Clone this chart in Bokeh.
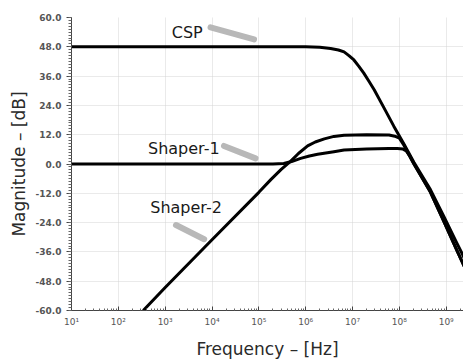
from bokeh.plotting import figure
from bokeh.models import (FixedTicker, NumeralTickFormatter, CustomJSTickFormatter,
                          SingleIntervalTicker, Range1d)
from bokeh.core.properties import value
from bokeh.embed import file_html
from bokeh.resources import INLINE

# ---- data ----
csp_freq = [10, 1.0e6, 2.0e6, 3.4e6, 5.0e6, 6.6e6, 8.5e6, 1.07e7, 1.38e7, 1.74e7,
            2.24e7, 2.9e7, 4.7e7, 7.6e7, 1.26e8, 2.04e8, 4.6e8, 8.9e8, 1.7e9, 2.5e9]
csp_db = [48.0, 48.0, 47.8, 47.3, 46.7, 45.9, 44.3, 42.6, 39.9, 37.2,
          33.9, 30.4, 23.0, 15.5, 8.1, 0.7, -10.5, -21.5, -32.5, -39.0]

sh1_freq = [10, 2.0e5, 3.4e5, 5.0e5, 7.8e5, 1.2e6, 1.8e6, 4.0e6, 6.6e6, 2.0e7,
            6.0e7, 9.0e7, 1.2e8, 1.4e8, 1.7e8, 2.04e8, 4.6e8, 8.9e8, 1.7e9, 2.5e9]
sh1_db = [0.0, 0.0, 0.2, 1.0, 2.3, 3.3, 4.0, 5.0, 5.7, 6.1,
          6.3, 6.3, 6.1, 5.4, 3.0, 0.2, -11.5, -23.5, -35.5, -42.5]

sh2_freq = [340, 1.0e3, 1.0e4, 1.0e5, 1.8e5, 3.0e5, 4.8e5, 7.0e5, 1.1e6, 1.6e6,
            2.5e6, 4.0e6, 6.6e6, 2.0e7, 6.0e7, 8.0e7, 1.0e8, 1.26e8, 2.04e8,
            4.6e8, 8.9e8, 1.7e9, 2.5e9]
sh2_db = [-60.0, -50.6, -31.0, -11.6, -6.4, -2.2, 1.2, 4.3, 7.4, 9.0,
          10.3, 11.3, 11.8, 12.0, 11.9, 11.4, 10.6, 7.6, 0.0,
          -11.5, -23.5, -35.5, -42.5]

label_text = ["CSP", "Shaper-1", "Shaper-2"]
label_freq = [1.38e3, 4.3e2, 4.8e2]
label_db = [54.0, 6.3, -17.8]

pointer_f0 = [9.3e3, 1.8e4, 1.7e3]
pointer_db0 = [56.0, 7.4, -25.0]
pointer_f1 = [7.9e4, 8.5e4, 6.8e3]
pointer_db1 = [51.0, 2.3, -30.8]

decade_ticks = [1e1, 1e2, 1e3, 1e4, 1e5, 1e6, 1e7, 1e8, 1e9]
minor_x_ticks = [k * d for d in [1e1, 1e2, 1e3, 1e4, 1e5, 1e6, 1e7, 1e8, 1e9]
                 for k in range(2, 10)]

FONT = "DejaVu Sans"

p = figure(width=463, height=361, x_axis_type="log",
           x_range=Range1d(10, 2.34e9), y_range=Range1d(-60, 60),
           output_backend="svg", toolbar_location=None,
           min_border_left=71, min_border_right=0, min_border_top=17,
           min_border_bottom=48)
p.outline_line_color = None
p.background_fill_color = "white"
p.border_fill_color = "white"

# grids
for g in (p.xgrid, p.ygrid):
    g.grid_line_color = "#d4d4d4"
    g.grid_line_dash = "1 1"
    g.grid_line_width = 1

# x axis
xa = p.xaxis[0]
xa.ticker = FixedTicker(ticks=decade_ticks, minor_ticks=minor_x_ticks)
xa.formatter = CustomJSTickFormatter(code="""
const sup = {'0':'\u2070','1':'\u00b9','2':'\u00b2','3':'\u00b3','4':'\u2074',
             '5':'\u2075','6':'\u2076','7':'\u2077','8':'\u2078','9':'\u2079','-':'\u207b'};
const e = Math.round(Math.log10(tick));
return '10' + String(e).split('').map(c => sup[c]).join('');
""")
xa.axis_label = "Frequency \u2013 [Hz]"
xa.major_tick_in = 4
xa.major_tick_out = 0
xa.minor_tick_in = 2
xa.minor_tick_out = 0
xa.major_label_standoff = 6
xa.axis_label_standoff = 9

# y axis
ya = p.yaxis[0]
ya.ticker = SingleIntervalTicker(interval=12, num_minor_ticks=10)
ya.formatter = NumeralTickFormatter(format="0.0")
ya.axis_label = "Magnitude \u2013 [dB]"
ya.major_tick_in = 0
ya.major_tick_out = 5
ya.minor_tick_in = 0
ya.minor_tick_out = 3
ya.major_label_standoff = 5
ya.axis_label_standoff = 4

for ax in (xa, ya):
    ax.axis_line_color = "#444444"
    ax.major_tick_line_color = "#444444"
    ax.minor_tick_line_color = "#666666"
    ax.major_label_text_font = FONT
    ax.major_label_text_font_size = "9px"
    ax.major_label_text_color = "#555555"
    ax.axis_label_text_font = FONT
    ax.axis_label_text_font_size = "17px"
    ax.axis_label_text_font_style = "normal"
    ax.axis_label_text_color = "#2a2a2a"
ya.major_label_text_font_style = "bold"

# curves
for fx, dy in ((csp_freq, csp_db), (sh1_freq, sh1_db), (sh2_freq, sh2_db)):
    p.line(fx, dy, line_color="black", line_width=3, line_join="round")

# pointers
p.segment(x0=pointer_f0, y0=pointer_db0, x1=pointer_f1, y1=pointer_db1,
          line_color="#b8b8b8", line_width=6, line_cap="round")

# labels
p.text(x=label_freq, y=label_db, text=label_text,
       text_font=value(FONT), text_font_size="16px",
       text_color="#1a1a1a", text_align="left", text_baseline="middle")

open("out.html", "w").write(file_html(p, INLINE))
